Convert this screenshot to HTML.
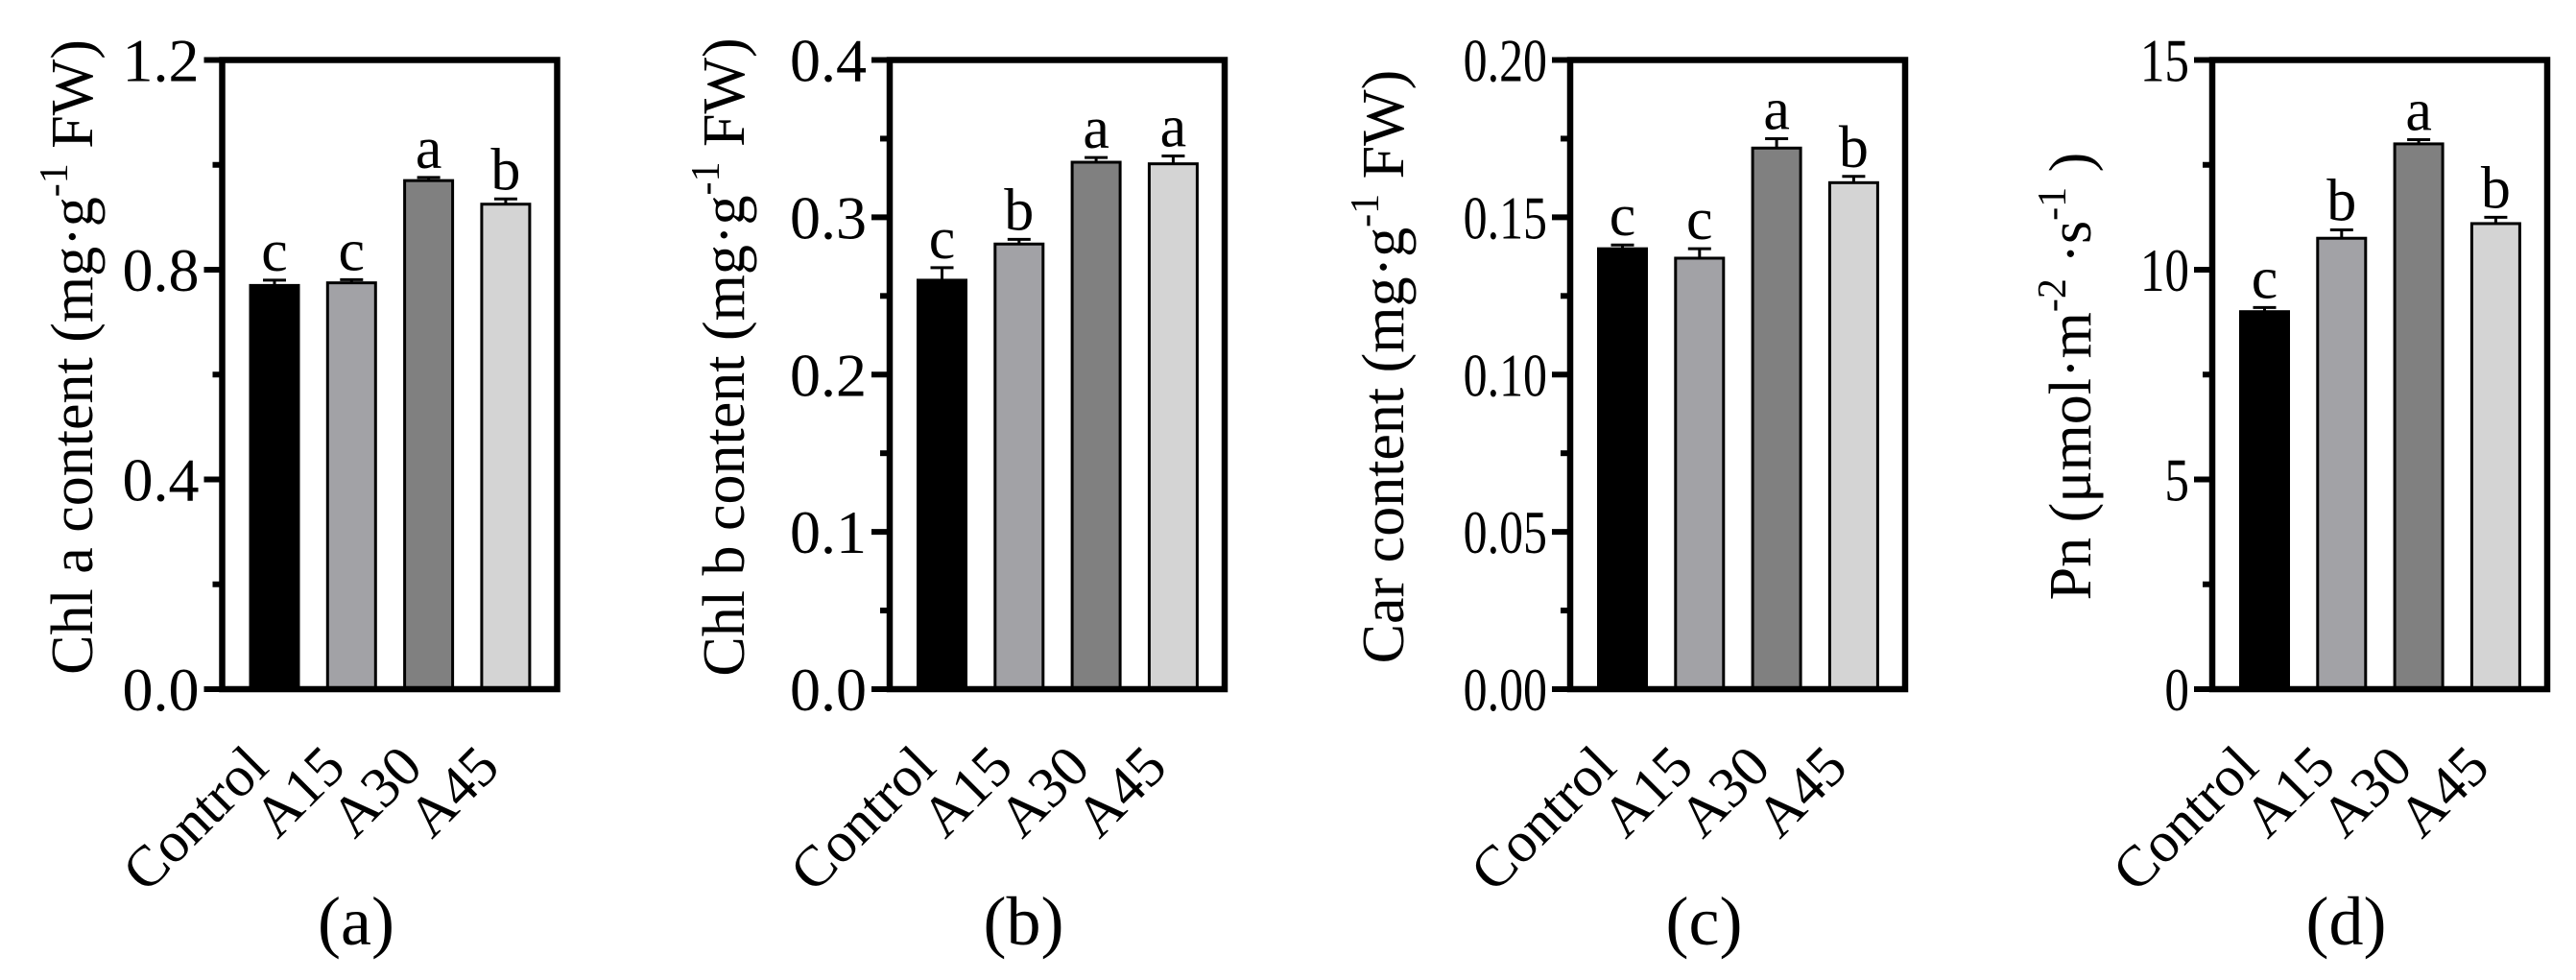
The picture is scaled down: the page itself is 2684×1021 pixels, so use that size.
<!DOCTYPE html>
<html><head><meta charset="utf-8">
<style>
html,body{margin:0;padding:0;background:#fff;}
svg{display:block;font-family:"Liberation Serif",serif;}
</style></head>
<body>
<svg id="chart" width="2684" height="1021" viewBox="0 0 2684 1021" xmlns="http://www.w3.org/2000/svg"></svg>
<script>
const categories = ["Control","A15","A30","A45"];
const chlA = [0.77,0.775,0.97,0.925];
const chlAErr = [0.01,0.006,0.006,0.01];
const chlALetters = ["c","c","a","b"];
const chlB = [0.26,0.283,0.335,0.334];
const chlBErr = [0.008,0.003,0.003,0.005];
const chlBLetters = ["c","b","a","a"];
const car = [0.140,0.137,0.172,0.161];
const carErr = [0.0012,0.003,0.003,0.002];
const carLetters = ["c","c","a","b"];
const pn = [9.0,10.75,13.0,11.1];
const pnErr = [0.1,0.2,0.1,0.15];
const pnLetters = ["c","b","a","b"];
const ticksA = ["0.0","0.4","0.8","1.2"];
const ticksB = ["0.0","0.1","0.2","0.3","0.4"];
const ticksC = ["0.00","0.05","0.10","0.15","0.20"];
const ticksD = ["0","5","10","15"];
const colors = ["#000000","#a2a2a6","#808080","#d4d4d4"];

const NS="http://www.w3.org/2000/svg";
const svg=document.getElementById('chart');
function mk(tag,attrs,parent){const e=document.createElementNS(NS,tag);for(const k in attrs)e.setAttribute(k,attrs[k]);(parent||svg).appendChild(e);return e;}

const TOP=62.5, BOT=718;
function panel(cfg){
  const L=cfg.left, R=cfg.left+349;
  const g=mk('g',{});
  
  
  const y=v=>BOT-(v/cfg.max)*(BOT-TOP);
  cfg.vals.forEach((v,i)=>{
    const cx=L+54.5+i*80.3, w=50;
    const yt=y(v), ye=y(v+cfg.err[i]);
    const eb=mk('line',{x1:cx,x2:cx,y1:yt,y2:ye,stroke:'#000','stroke-width':3},g);
    
    
    const cap=mk('line',{x1:cx-12,x2:cx+12,y1:ye,y2:ye,stroke:'#000','stroke-width':3},g);
    
    
    const r=mk('rect',{x:cx-w/2,y:yt,width:w,height:BOT-yt,fill:colors[i],stroke:'#000','stroke-width':3},g);
    
    
    const t=mk('text',{x:cx,y:ye-10,'text-anchor':'middle','font-size':62},g);
    t.textContent=cfg.letters[i];
    
    
    const c=mk('text',{x:0,y:0,'text-anchor':'end','font-size':60,transform:`translate(${cx-4},${BOT+84}) rotate(-45)`},g);
    c.textContent=categories[i];
    
    
  });
  const f=mk('rect',{x:L,y:TOP,width:R-L,height:BOT-TOP,fill:'none',stroke:'#000','stroke-width':6.5},g);
  
  
  const n=cfg.ticks.length-1;
  for(let k=0;k<=n*2;k++){
    const v=cfg.max*k/(n*2), yy=y(v), major=k%2===0;
    const tl=mk('line',{x1:L-(major?19:10),x2:L,y1:yy,y2:yy,stroke:'#000','stroke-width':6},g);
    
    
    if(major){
      const tx=mk('text',{x:0,y:0,'text-anchor':'end','font-size':64,transform:`translate(${L-24},${yy+22}) scale(${cfg.sx},1)`},g);
      tx.textContent=cfg.ticks[k/2];
      
      
    }
  }
  const yt=mk('text',{x:0,y:0,'text-anchor':'middle','font-size':62,transform:`translate(${cfg.titleX},${cfg.titleY}) rotate(-90)`},g);
  
  
  yt.innerHTML=cfg.title;
  const pl=mk('text',{x:(L+R)/2-35,y:984,'text-anchor':'middle','font-size':72},g);
  pl.textContent=cfg.label;
  
  
}
const sup=s=>`<tspan dy="-26" font-size="42">${s}</tspan><tspan dy="26"> </tspan>`;
panel({id:'chl-a',left:231.5,max:1.2,vals:chlA,err:chlAErr,letters:chlALetters,ticks:ticksA,sx:1,
  title:`Chl a content (mg·g${sup('-1')}FW)`,titleX:96,titleY:372,label:'(a)'});
panel({id:'chl-b',left:927,max:0.4,vals:chlB,err:chlBErr,letters:chlBLetters,ticks:ticksB,sx:1,
  title:`Chl b content (mg·g${sup('-1')}FW)`,titleX:775,titleY:372,label:'(b)'});
panel({id:'car',left:1636,max:0.2,vals:car,err:carErr,letters:carLetters,ticks:ticksC,sx:0.78,
  title:`Car content (mg·g${sup('-1')}FW)`,titleX:1462,titleY:382,label:'(c)'});
panel({id:'pn',left:2305,max:15,vals:pn,err:pnErr,letters:pnLetters,ticks:ticksD,sx:0.8,
  title:`Pn (μmol·m${sup('-2')}·s${sup('-1')})`,titleX:2178,titleY:392,label:'(d)'});
</script>
</body></html>
